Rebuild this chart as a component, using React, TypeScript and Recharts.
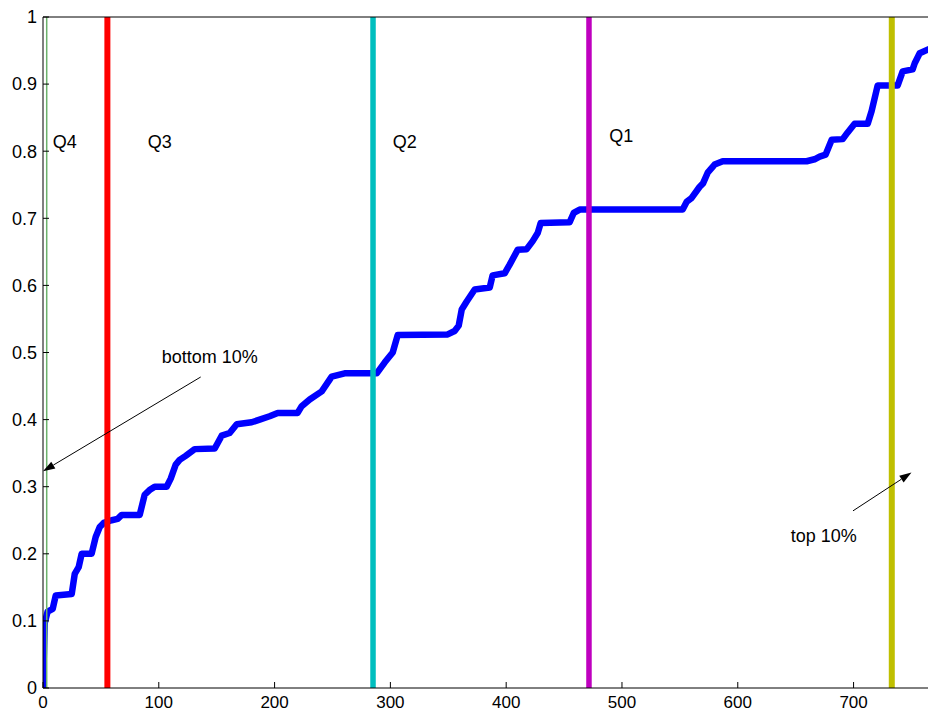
import React from 'react';
import {
  LineChart,
  Line,
  XAxis,
  YAxis,
  ReferenceLine,
  ReferenceDot,
} from 'recharts';

// cumulative curve
const curveX = [
  0, 0.6, 1.5, 4, 8.4, 11, 24.8, 27.4, 30.8, 33.4, 42, 45.5, 49, 52.4, 59.3, 64.5, 68, 83.5,
  87.8, 92, 96.5, 106.8, 110.3, 114.6, 118, 123.2, 131, 148.3, 154.3, 161.2, 167.3, 180.2,
  187.1, 195.7, 202.7, 219.9, 223.4, 230.3, 240.7, 249.3, 260.5, 288.2, 295, 302, 306.3,
  349.5, 355.5, 359, 361.6, 365.9, 372.8, 385.8, 388.3, 398.7, 403, 409.9, 417.7, 422.9,
  427.2, 429.8, 454.8, 458.3, 463.5, 552.4, 556, 560, 567.1, 570, 574, 580, 587, 659.5, 666.3,
  670.7, 675.9, 681.1, 690.6, 694.9, 700.9, 712.2, 715.6, 720.8, 738.1, 742.4, 751, 752.8,
  757.1, 766,
];
const curveY = [
  0, 0.04, 0.097, 0.114, 0.118, 0.138, 0.14, 0.17, 0.18, 0.2, 0.2, 0.225, 0.24, 0.246, 0.25,
  0.252, 0.258, 0.258, 0.288, 0.295, 0.3, 0.3, 0.312, 0.333, 0.34, 0.346, 0.356, 0.357,
  0.376, 0.38, 0.393, 0.396, 0.4, 0.405, 0.41, 0.41, 0.42, 0.43, 0.442, 0.464, 0.469, 0.469,
  0.485, 0.5, 0.526, 0.527, 0.532, 0.54, 0.564, 0.576, 0.594, 0.597, 0.615, 0.618, 0.631,
  0.653, 0.654, 0.666, 0.678, 0.693, 0.694, 0.708, 0.713, 0.713, 0.725, 0.73, 0.747, 0.752,
  0.768, 0.78, 0.785, 0.785, 0.788, 0.792, 0.795, 0.817, 0.818, 0.828, 0.841, 0.841, 0.86,
  0.898, 0.898, 0.919, 0.922, 0.931, 0.946, 0.953,
];

const xTicks = [0, 100, 200, 300, 400, 500, 600, 700];
const yTicks = [0, 0.1, 0.2, 0.3, 0.4, 0.5, 0.6, 0.7, 0.8, 0.9, 1];
const xMax = 766;

// quartile / decile markers
const markerX = [3.2, 55.6, 285, 471.5, 733];
const markerColors = ['#6cb26c', '#ff0000', '#00bfbf', '#bf00bf', '#bfbf00'];
const markerWidths = [1.5, 6, 5.5, 5.5, 6];

const labelText = ['Q4', 'Q3', 'Q2', 'Q1', 'bottom 10%', 'top 10%'];
const labelX = [8.4, 90.4, 302, 489, 102.6, 645.7];
const labelY = [0.814, 0.814, 0.814, 0.822, 0.494, 0.227];

const arrowFrom = [
  { x: 136.2, y: 0.4635 },
  { x: 699.5, y: 0.264 },
];
const arrowTo = [
  { x: 0, y: 0.323 },
  { x: 750, y: 0.321 },
];

const data = curveX.map((x, i) => ({ x, y: curveY[i] }));

const FONT = '"Liberation Sans", Arial, Helvetica, sans-serif';

const Arrow = (props: any) => {
  const { x1, y1, x2, y2 } = props;
  const dx = x2 - x1;
  const dy = y2 - y1;
  const len = Math.sqrt(dx * dx + dy * dy) || 1;
  const ux = dx / len;
  const uy = dy / len;
  const head = 12;
  const half = 4;
  const bx = x2 - ux * head;
  const by = y2 - uy * head;
  const pts = `${x2},${y2} ${bx - uy * half},${by + ux * half} ${bx + uy * half},${by - ux * half}`;
  return (
    <g>
      <line x1={x1} y1={y1} x2={bx} y2={by} stroke="#000" strokeWidth={1} />
      <polygon points={pts} fill="#000" />
    </g>
  );
};

const TextMark = (text: string) => (props: any) => (
  <text
    x={props.cx}
    y={props.cy}
    dominantBaseline="central"
    fontSize={18}
    fontFamily={FONT}
    fill="#000"
  >
    {text}
  </text>
);

const App: React.FC = () => {
  return (
    <div
      style={{
        position: 'absolute',
        left: 0,
        top: 0,
        width: 928,
        height: 713,
        overflow: 'hidden',
        background: '#fff',
        fontFamily: FONT,
      }}
    >
      <LineChart width={932} height={713} data={data} margin={{ top: 0, right: 0, left: 0, bottom: 0 }}>
        <XAxis
          xAxisId="bottom"
          dataKey="x"
          type="number"
          domain={[0, xMax]}
          ticks={xTicks}
          allowDataOverflow
          height={25}
          tickSize={-6}
          tickMargin={14}
          stroke="#000"
          tick={{ fill: '#000', fontSize: 17, fontFamily: FONT }}
        />
        <XAxis
          xAxisId="top"
          orientation="top"
          dataKey="x"
          type="number"
          domain={[0, xMax]}
          ticks={xTicks}
          allowDataOverflow
          height={17}
          tickSize={-6}
          tick={false}
          stroke="#000"
        />
        <YAxis
          yAxisId="left"
          type="number"
          domain={[0, 1]}
          ticks={yTicks}
          width={43}
          tickSize={-6}
          tickMargin={12}
          stroke="#000"
          tickFormatter={(v: number) => String(v)}
          tick={{ fill: '#000', fontSize: 18, fontFamily: FONT }}
        />
        <YAxis
          yAxisId="right"
          orientation="right"
          type="number"
          domain={[0, 1]}
          ticks={yTicks}
          width={2}
          tickSize={-6}
          tick={false}
          stroke="#000"
        />
        <Line
          xAxisId="bottom"
          yAxisId="left"
          type="linear"
          dataKey="y"
          stroke="#0000ff"
          strokeWidth={6.5}
          strokeLinejoin="round"
          dot={false}
          isAnimationActive={false}
        />
        {markerX.map((mx, i) => (
          <ReferenceLine
            key={`m${i}`}
            xAxisId="bottom"
            yAxisId="left"
            x={mx}
            stroke={markerColors[i]}
            strokeWidth={markerWidths[i]}
          />
        ))}
        {arrowFrom.map((from, i) => (
          <ReferenceLine
            key={`a${i}`}
            xAxisId="bottom"
            yAxisId="left"
            segment={[from, arrowTo[i]]}
            ifOverflow="visible"
            shape={Arrow}
          />
        ))}
        {labelText.map((t, i) => (
          <ReferenceDot
            key={`l${i}`}
            xAxisId="bottom"
            yAxisId="left"
            x={labelX[i]}
            y={labelY[i]}
            r={0}
            shape={TextMark(t)}
          />
        ))}
      </LineChart>
    </div>
  );
};

export default App;
